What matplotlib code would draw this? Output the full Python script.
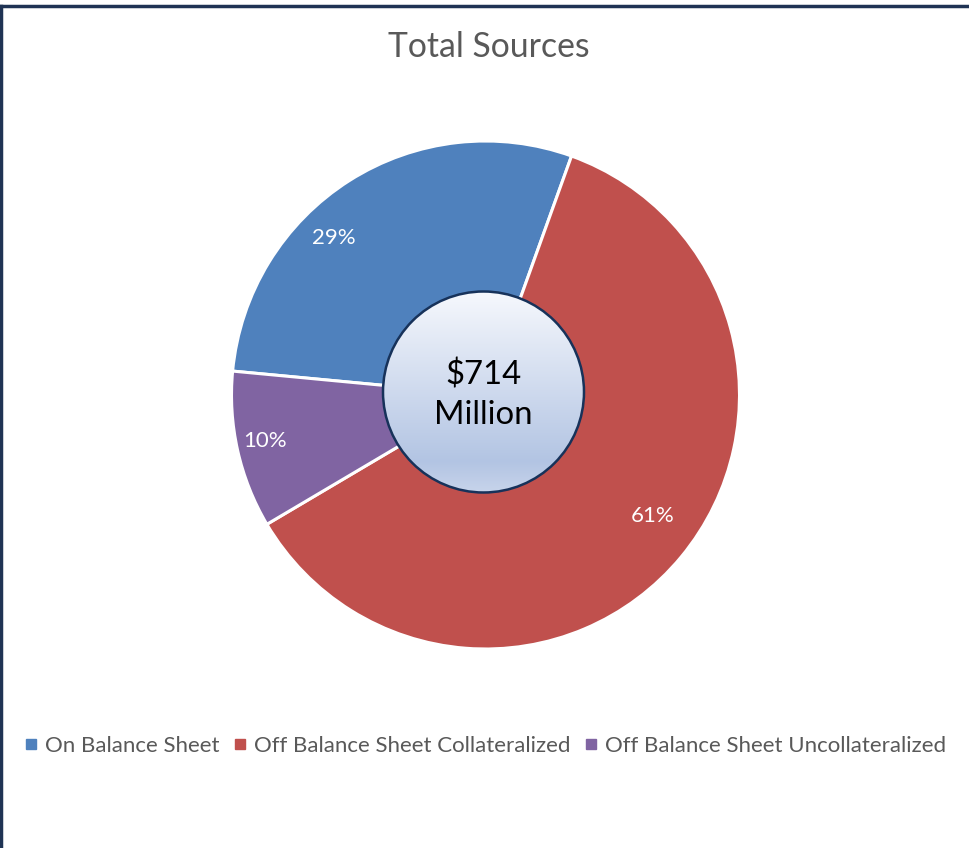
import numpy as np
import matplotlib
matplotlib.use("Agg")
import matplotlib.pyplot as plt
from matplotlib.patches import Circle
from matplotlib.lines import Line2D

plt.rcParams['font.family'] = ['Lato', 'DejaVu Sans']

# Data
categories = ["On Balance Sheet", "Off Balance Sheet Collateralized",
              "Off Balance Sheet Uncollateralized"]
shares = [29, 61, 10]
total_label = "$714\nMillion"
title = "Total Sources"

colors = ["#4F81BD", "#C0504D", "#8064A2"]
text_gray = "#595959"

W, H = 970, 848
fig = plt.figure(figsize=(W / 100, H / 100), dpi=100)

# Pie axes: centre (485.5, 395) px, radius 254 px
cx, cy, r = 485.5, 395.0, 254.0
ax = fig.add_axes([(cx - r) / W, (H - cy - r) / H, 2 * r / W, 2 * r / H])

wedges, _ = ax.pie(shares, colors=colors, startangle=174.6, counterclock=False,
                   radius=1.0,
                   wedgeprops=dict(edgecolor="white", linewidth=2.2))
ax.set_xlim(-1, 1)
ax.set_ylim(-1, 1)
ax.set_aspect("equal")
ax.axis("off")

# Percentage labels placed inside each slice
label_r = [0.86, 0.81, 0.885]
label_ang = [134.0, -35.9, 191.7]
for val, lr, la in zip(shares, label_r, label_ang):
    t = np.deg2rad(la)
    ax.text(lr * np.cos(t), lr * np.sin(t), f"{val}%", color="white",
            fontsize=16, ha="center", va="center")

# Centre badge with vertical gradient
ccx, ccy, cr = -2 / r, 3 / r, 100.5 / r
circ = Circle((ccx, ccy), cr, facecolor="none", edgecolor="#17325A",
              linewidth=1.8, zorder=5)
ax.add_patch(circ)
grad = np.linspace(0, 1, 256).reshape(-1, 1)
top = np.array([0.965, 0.973, 0.992])
mid = np.array([0.70, 0.77, 0.89])
bot = np.array([0.78, 0.83, 0.92])
g = np.where(grad < 0.85, grad / 0.85, 1.0)
rgb = top + (mid - top) * g[..., None]
tail = np.clip((grad - 0.85) / 0.15, 0, 1)
rgb = rgb + (bot - mid) * tail[..., None]
img = ax.imshow(rgb, extent=(ccx - cr, ccx + cr, ccy - cr, ccy + cr),
                origin="upper", zorder=4, aspect="auto")
clip = Circle((ccx, ccy), cr, transform=ax.transData)
img.set_clip_path(clip)
ax.set_xlim(-1, 1)
ax.set_ylim(-1, 1)
ax.text(ccx, ccy - 0.01, total_label, ha="center", va="center", fontsize=23.7,
        color="black", linespacing=1.4, zorder=6)

# Title
fig.text(489 / W, 1 - 47 / H, title, ha="center", va="center",
         fontsize=24.3, color=text_gray)

# Legend
handles = [Line2D([], [], marker="s", linestyle="none", markersize=7.5,
                  markerfacecolor=c, markeredgecolor=c) for c in colors]
fig.legend(handles, categories, loc="center left",
           bbox_to_anchor=(24 / W, 1 - 746 / H), ncol=3, frameon=False,
           fontsize=16.0, labelcolor=text_gray, handlelength=0.6,
           handletextpad=0.35, columnspacing=0.6, borderpad=0,
           borderaxespad=0)

# Frame lines at top and left
fig.add_artist(Line2D([0, 1], [1 - 5.5 / H, 1 - 5.5 / H], color="#1F3354",
                      linewidth=2.5, transform=fig.transFigure))
fig.add_artist(Line2D([1.5 / W, 1.5 / W], [0, 1 - 5.5 / H], color="#1F3354",
                      linewidth=2.5, transform=fig.transFigure))

fig.savefig("out.png", dpi=100, facecolor="white")
